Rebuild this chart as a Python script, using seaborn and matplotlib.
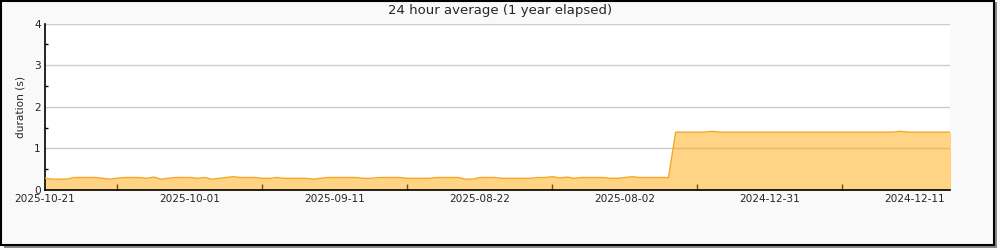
import numpy as np
import pandas as pd
import matplotlib
matplotlib.use("Agg")
import matplotlib.pyplot as plt
from matplotlib.patches import Rectangle
import seaborn as sns

title = "24 hour average (1 year elapsed)"
ylabel = "duration (s)"
tick_labels = ["2025-10-21", "2025-10-01", "2025-09-11", "2025-08-22",
               "2025-08-02", "2024-12-31", "2024-12-11"]
tick_positions = [0, 20, 40, 60, 80, 100, 120]

low_values = [
    0.28, 0.26, 0.26, 0.26, 0.30, 0.30, 0.30, 0.30, 0.28, 0.26,
    0.285, 0.30, 0.30, 0.30, 0.28, 0.31, 0.26, 0.28, 0.30, 0.30,
    0.30, 0.28, 0.30, 0.26, 0.28, 0.30, 0.32, 0.30, 0.30, 0.30,
    0.28, 0.28, 0.30, 0.28, 0.28, 0.28, 0.28, 0.26, 0.28, 0.30,
    0.30, 0.30, 0.30, 0.30, 0.28, 0.28, 0.30, 0.30, 0.30, 0.30,
    0.28, 0.28, 0.28, 0.28, 0.30, 0.30, 0.30, 0.30, 0.26, 0.26,
    0.30, 0.30, 0.30, 0.28, 0.28, 0.28, 0.28, 0.28, 0.30, 0.30,
    0.32, 0.29, 0.31, 0.28, 0.30, 0.30, 0.30, 0.30, 0.28, 0.28,
    0.30, 0.32, 0.30, 0.30, 0.30, 0.30, 0.30,
]
high_values = [
    1.39, 1.39, 1.39, 1.39, 1.39, 1.41, 1.39, 1.39, 1.39, 1.39,
    1.39, 1.39, 1.39, 1.39, 1.39, 1.39, 1.39, 1.39, 1.39, 1.39,
    1.39, 1.39, 1.39, 1.39, 1.39, 1.39, 1.39, 1.39, 1.39, 1.39,
    1.39, 1.41, 1.39, 1.39, 1.39, 1.39, 1.39, 1.39, 1.39,
]
durations = low_values + high_values
days = list(range(len(durations)))

df = pd.DataFrame({"day": days, "duration": durations})

sns.set_style("white")
plt.rcParams["font.family"] = ["DejaVu Sans"]

fig = plt.figure(figsize=(10, 2.5), dpi=100)
fig.patch.set_facecolor("#f9f9f9")

# frame and shadow
fig.patches.append(Rectangle((0.004, 0.008), 0.993, 0.985, transform=fig.transFigure,
                             facecolor="#888888", edgecolor="none", zorder=-3))
fig.patches.append(Rectangle((0.001, 0.022), 0.993, 0.975, transform=fig.transFigure,
                             facecolor="#f9f9f9", edgecolor="black", linewidth=1.5, zorder=-2))

ax = fig.add_axes([0.045, 0.24, 0.905, 0.666])
ax.set_facecolor("white")

ax.fill_between(df["day"], df["duration"], 0, color="#ffa500", alpha=0.48,
                linewidth=0, zorder=2)
sns.lineplot(data=df, x="day", y="duration", ax=ax, color="#f5a623",
             linewidth=1.0, zorder=3)

ax.set_xlim(0, 124.83)
ax.set_ylim(0, 4)
ax.set_yticks([0, 1, 2, 3, 4])
ax.set_yticks([0.5, 1.5, 2.5, 3.5], minor=True)
ax.set_xticks(tick_positions)
ax.set_xticklabels(tick_labels)
ax.set_xticks([10, 30, 50, 70, 90, 110], minor=True)

ax.yaxis.grid(True, which="major", color="#cccccc", linewidth=1, zorder=1)
ax.xaxis.grid(False)
ax.set_axisbelow(True)

for side in ["top", "right"]:
    ax.spines[side].set_visible(False)
for side in ["left", "bottom"]:
    ax.spines[side].set_color("black")
    ax.spines[side].set_linewidth(1.2)

ax.tick_params(axis="both", which="major", direction="in", length=4, width=1,
               color="black", labelsize=7.6, pad=3)
ax.tick_params(axis="y", which="minor", direction="in", length=2.5, width=1, color="black", left=True)
ax.tick_params(axis="x", which="minor", direction="in", length=4, width=1, color="black", bottom=True)

ax.set_xlabel("")
ax.set_ylabel(ylabel, fontsize=7.6, labelpad=6)
fig.suptitle(title, fontsize=9.5, x=0.5, y=0.985, va="top")

fig.savefig("out.png", dpi=100, facecolor=fig.get_facecolor())
